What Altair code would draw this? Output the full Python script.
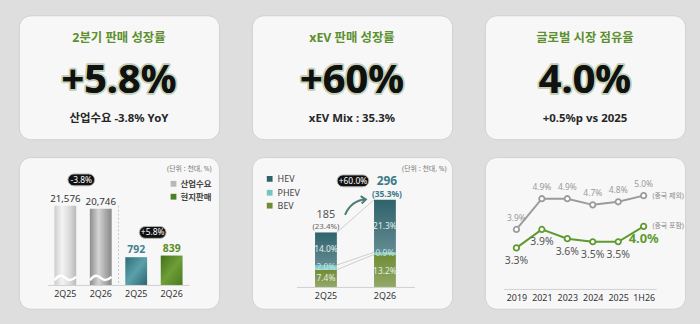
import altair as alt
import pandas as pd

F = "Noto Sans, Noto Sans CJK KR, sans-serif"

# ---------------- data ----------------
kpi_titles = ["2분기 판매 성장률", "xEV 판매 성장률", "글로벌 시장 점유율"]
kpi_values = ["+5.8%", "+60%", "4.0%"]
kpi_subs = ["산업수요 -3.8% YoY", "xEV Mix : 35.3%", "+0.5%p vs 2025"]

quarters = ["2Q25", "2Q26"]
demand = [21576, 20746]
local_sales = [792, 839]
group_names = ["산업수요", "현지판매"]
growth_badges = ["-3.8%", "+5.8%"]
unit_note = "(단위 : 천대, %)"

xev_total = [185, 296]
xev_mix = ["23.4%", "35.3%"]
xev_types = ["BEV", "PHEV", "HEV"]
bev_share = [7.4, 13.2]
phev_share = [2.0, 0.9]
hev_share = [14.0, 21.3]
xev_badge = "+60.0%"

years = ["2019", "2021", "2023", "2024", "2025", "1H26"]
share_ex_china = [3.9, 4.9, 4.9, 4.7, 4.8, 5.0]
share_in_china = [3.3, 3.9, 3.6, 3.5, 3.5, 4.0]
series_names = ["(중국 제외)", "(중국 포함)"]


def lg(stops, x2=1, y2=0):
    return alt.LinearGradient(
        gradient="linear",
        stops=[alt.GradientStop(color=c, offset=o) for o, c in stops],
        x1=0, y1=0, x2=x2, y2=y2,
    )


def axis(offset):
    return alt.Axis(title=None, offset=offset, domainColor="#cfcfcf", ticks=False,
                    labelFont=F, labelFontSize=9, labelColor="#333", labelPadding=5,
                    labelAngle=0, grid=False)


# ---------------- KPI cards ----------------
def kpi(i):
    d = pd.DataFrame({"t": [kpi_titles[i]], "v": [kpi_values[i]], "s": [kpi_subs[i]]})
    b = alt.Chart(d)
    cx = alt.value(101)
    title = b.mark_text(font=F, fontSize=12.5, fontWeight="bold", color="#5c8f2e").encode(
        x=cx, y=alt.value(23), text="t:N")
    glow = b.mark_text(font=F, fontSize=40, fontWeight="bold", color="#1a1a1a",
                       stroke="#3f6f14", strokeWidth=4, strokeOpacity=0.28,
                       strokeJoin="round").encode(x=cx, y=alt.value(66), text="v:N")
    num = b.mark_text(font=F, fontSize=40, fontWeight="bold", color="#111").encode(
        x=cx, y=alt.value(66), text="v:N")
    sub = b.mark_text(font=F, fontSize=11.5, fontWeight="bold", color="#262626").encode(
        x=cx, y=alt.value(105), text="s:N")
    return alt.layer(title, glow, num, sub).properties(width=202, height=125)


# ---------------- panel 1 : demand vs local sales ----------------
keys = [f"{group_names[0]} {q}" for q in quarters] + [f"{group_names[1]} {q}" for q in quarters]
p1 = pd.DataFrame({"k": keys, "v": demand + local_sales,
                   "g": [group_names[0]] * 2 + [group_names[1]] * 2})
p1["lab"] = [f"{v:,}" for v in p1["v"]]
b1 = alt.Chart(p1)
ax1 = axis(-24)
ax1["labelExpr"] = "slice(datum.label, -4)"
X1 = alt.X("k:N", sort=keys, scale=alt.Scale(domain=keys, range=[29, 172], paddingInner=0, paddingOuter=0),
           axis=ax1)
SG = alt.Scale(domain=[0, 25000], range=[129, 36.3])
SC = alt.Scale(domain=[0, 2000], range=[129, 58.3])

gray1 = lg([(0, "#cdcdcd"), (0.35, "#f3f3f3"), (0.7, "#dadada"), (1, "#bababa")])
gray2 = lg([(0, "#8d8d8d"), (0.4, "#d4d4d4"), (0.75, "#a6a6a6"), (1, "#888888")])
teal = lg([(0, "#2f6e79"), (0.5, "#5aa0aa"), (1, "#2d6670")], 1, 1)
green = lg([(0, "#426f1d"), (0.5, "#6e9e35"), (1, "#4a7a22")], 1, 1)

WAVE = "M-1,0.2 C-0.6,-0.3 -0.3,-0.3 0,0 C0.3,0.3 0.6,0.25 1,-0.1"

gray_layers = [
    b1.transform_filter(alt.datum.k == keys[i]).mark_bar(size=22, color=grad).encode(
        x=X1, y=alt.Y("v:Q", scale=SG, axis=None))
    for i, grad in enumerate([gray1, gray2])
]
gray_layers.append(
    b1.transform_filter(alt.datum.g == group_names[0]).transform_calculate(b="1900")
    .mark_point(shape=WAVE, size=484, filled=False, stroke="white", strokeWidth=2.5, opacity=1)
    .encode(x=X1, y=alt.Y("b:Q", scale=SG, axis=None)))
gray_layers.append(
    b1.transform_filter(alt.datum.g == group_names[0]).mark_text(
        font=F, fontSize=9.8, color="#333", baseline="bottom", dy=-2)
    .encode(x=X1, y=alt.Y("v:Q", scale=SG, axis=None), text="lab:N"))
gray_layer = alt.layer(*gray_layers)

col_layers = [
    b1.transform_filter(alt.datum.k == keys[2 + i]).mark_bar(size=22, color=grad).encode(
        x=X1, y=alt.Y("v:Q", scale=SC, axis=None))
    for i, grad in enumerate([teal, green])
]
for i, c in enumerate(["#3d8391", "#5b8d25"]):
    col_layers.append(
        b1.transform_filter(alt.datum.k == keys[2 + i]).mark_text(
            font=F, fontSize=10.5, fontWeight="bold", baseline="bottom", dy=-2, color=c)
        .encode(x=X1, y=alt.Y("v:Q", scale=SC, axis=None), text="lab:N"))
col_layer = alt.layer(*col_layers)

bd1 = alt.Chart(pd.DataFrame({"t": [growth_badges[0]]}))
bd2 = alt.Chart(pd.DataFrame({"t": [growth_badges[1]]}))


def badge(b, cx, cy, w, h=12):
    r = b.mark_rect(cornerRadius=6, color="#111", stroke="#b5b5b5", strokeWidth=1).encode(
        x=alt.value(cx - w / 2), x2=alt.value(cx + w / 2), y=alt.value(cy - h / 2), y2=alt.value(cy + h / 2))
    t = b.mark_text(font=F, fontSize=8.5, color="white").encode(
        x=alt.value(cx), y=alt.value(cy), text="t:N")
    return [r, t]


sep = alt.Chart(pd.DataFrame({"a": [0]})).mark_rule(color="#c4c4c4", strokeDash=[2, 2], strokeWidth=1).encode(
    x=alt.value(100.5), y=alt.value(49), y2=alt.value(129))

leg1 = pd.DataFrame({"t": group_names})
legc = alt.Chart(leg1)
note1 = alt.Chart(pd.DataFrame({"t": [unit_note]})).mark_text(font=F, fontSize=7, color="#777").encode(
    x=alt.value(172), y=alt.value(12), text="t:N")
leg_layers = []
for i, (c, yy) in enumerate([("#b8b8b8", 27), ("#4e7f25", 40)]):
    leg_layers.append(legc.transform_filter(alt.datum.t == group_names[i]).mark_point(
        shape="square", filled=True, size=34, color=c, opacity=1).encode(x=alt.value(156), y=alt.value(yy)))
    leg_layers.append(legc.transform_filter(alt.datum.t == group_names[i]).mark_text(
        font=F, fontSize=8.5, fontWeight="bold", color="#444", align="left").encode(
        x=alt.value(163), y=alt.value(yy), text="t:N"))

panel1 = alt.layer(gray_layer, col_layer, sep, *badge(bd1, 63, 23, 27), *badge(bd2, 135, 76, 27),
                   note1, *leg_layers).resolve_scale(y="independent").properties(width=202, height=153)

# ---------------- panel 2 : xEV stacked ----------------
rows = []
for qi, q in enumerate(quarters):
    shares = {"BEV": bev_share[qi], "PHEV": phev_share[qi], "HEV": hev_share[qi]}
    tot_share = sum(shares.values())
    cum = 0.0
    for t in xev_types:
        u = xev_total[qi] * shares[t] / tot_share
        rows.append(dict(q=q, t=t, y0=cum, y1=cum + u, mid=cum + u / 2, lab=f"{shares[t]:.1f}%"))
        cum += u
p2 = pd.DataFrame(rows)
b2 = alt.Chart(p2)
X2 = alt.X("q:N", sort=quarters, scale=alt.Scale(domain=quarters, range=[45, 164], paddingInner=0, paddingOuter=0),
           axis=axis(-22))
S2 = alt.Scale(domain=[0, 400], range=[131, 12.2])
xev_colors = ["#6f8c35", "#78c4c2", "#2f636c"]

bars2 = b2.mark_bar(size=22).encode(
    x=X2, y=alt.Y("y0:Q", scale=S2, axis=None), y2="y1:Q",
    color=alt.Color("t:N", scale=alt.Scale(domain=xev_types, range=xev_colors), legend=None))
shade2 = b2.mark_bar(size=22, color=lg([(0, "rgba(255,255,255,0)"), (1, "rgba(255,255,255,0.25)")], 0, 1)).encode(
    x=X2, y=alt.Y("y0:Q", scale=S2, axis=None), y2="y1:Q")
seg_lab = b2.transform_filter(alt.datum.t != "PHEV").mark_text(font=F, fontSize=8.5, color="#e4eeea").encode(
    x=X2, y=alt.Y("mid:Q", scale=S2, axis=None), text="lab:N")
phev_lab = b2.transform_filter(alt.datum.t == "PHEV").mark_text(font=F, fontSize=8.5, color="#b9e6e3").encode(
    x=X2, y=alt.Y("mid:Q", scale=S2, axis=None), text="lab:N")

tots = pd.DataFrame({"q": quarters, "total": xev_total, "mix": [f"({m})" for m in xev_mix]})
bt = alt.Chart(tots)
tot_layers = [
    bt.transform_filter(alt.datum.q == quarters[0]).mark_text(font=F, fontSize=11, color="#555", dy=-17.5).encode(
        x=X2, y=alt.Y("total:Q", scale=S2, axis=None), text="total:N"),
    bt.transform_filter(alt.datum.q == quarters[0]).mark_text(font=F, fontSize=8, color="#666", dy=-5.5).encode(
        x=X2, y=alt.Y("total:Q", scale=S2, axis=None), text="mix:N"),
    bt.transform_filter(alt.datum.q == quarters[1]).mark_text(font=F, fontSize=12, fontWeight="bold",
                                                              color="#3b7b88", dy=-18.5, dx=2).encode(
        x=X2, y=alt.Y("total:Q", scale=S2, axis=None), text="total:N"),
    bt.transform_filter(alt.datum.q == quarters[1]).mark_text(font=F, fontSize=8.5, fontWeight="bold",
                                                              color="#3b7b88", dy=-5.5, dx=2).encode(
        x=X2, y=alt.Y("total:Q", scale=S2, axis=None), text="mix:N"),
]

p25 = p2[p2.q == quarters[0]].set_index("t")
p26 = p2[p2.q == quarters[1]].set_index("t")
conn = pd.DataFrame({
    "a": [xev_total[0], p25.loc["PHEV", "y1"], p25.loc["PHEV", "y0"]],
    "b": [xev_total[1], p26.loc["PHEV", "y1"], p26.loc["PHEV", "y0"]],
})
conn_rule = alt.Chart(conn).mark_rule(color="#cdcdcd", strokeWidth=1).encode(
    x=alt.value(85.75), x2=alt.value(123.25), y=alt.Y("a:Q", scale=S2, axis=None), y2="b:Q")

ARROW = "M-1,0.8 Q-0.45,-0.55 1,-0.7 M0.5,-1 L1,-0.7 L0.6,-0.3"
arrow = alt.Chart(pd.DataFrame({"a": [0]})).mark_point(
    shape=ARROW, size=441, filled=False, stroke="#4d7d75", strokeWidth=2, opacity=1).encode(
    x=alt.value(104.5), y=alt.value(50))

bd3 = alt.Chart(pd.DataFrame({"t": [xev_badge]}))
note2 = alt.Chart(pd.DataFrame({"t": [unit_note]})).mark_text(font=F, fontSize=7, color="#777").encode(
    x=alt.value(174), y=alt.value(12), text="t:N")
legx = alt.Chart(pd.DataFrame({"t": xev_types, "c": xev_colors}))
leg2 = []
for t, c, yy in [("HEV", xev_colors[2], 22), ("PHEV", xev_colors[1], 36), ("BEV", xev_colors[0], 49)]:
    leg2.append(legx.transform_filter(alt.datum.t == t).mark_point(
        shape="square", filled=True, size=34, color=c, opacity=1).encode(x=alt.value(18), y=alt.value(yy)))
    leg2.append(legx.transform_filter(alt.datum.t == t).mark_text(
        font=F, fontSize=9, color="#444", align="left").encode(x=alt.value(26), y=alt.value(yy), text="t:N"))

panel2 = alt.layer(conn_rule, bars2, shade2, seg_lab, phev_lab, *tot_layers, arrow,
                   *badge(bd3, 102, 24, 32), note2, *leg2).properties(width=202, height=153)

# ---------------- panel 3 : market share lines ----------------
p3 = pd.DataFrame({"year": years * 2,
                   "s": [series_names[0]] * len(years) + [series_names[1]] * len(years),
                   "v": share_ex_china + share_in_china})
p3["lab"] = p3["v"].map(lambda v: f"{v:.1f}%")
b3 = alt.Chart(p3)
X3 = alt.X("year:O", sort=years, scale=alt.Scale(type="point", domain=years, range=[19, 173], padding=0.5),
           axis=axis(-20))
S3 = alt.Scale(domain=[3, 5.5], range=[100.9, 23.4])
Y3 = alt.Y("v:Q", scale=S3, axis=None)
C3 = alt.Scale(domain=series_names, range=["#9b9b9b", "#5e9b2f"])

lines3 = b3.mark_line(strokeWidth=2).encode(x=X3, y=Y3, color=alt.Color("s:N", scale=C3, legend=None))
pts3 = b3.mark_point(filled=True, fill="white", size=30, strokeWidth=1.8, opacity=1).encode(
    x=X3, y=Y3, stroke=alt.Stroke("s:N", scale=C3, legend=None))
lab_ex = b3.transform_filter(alt.datum.s == series_names[0]).mark_text(
    font=F, fontSize=8.5, color="#9a9a9a", dy=-12).encode(x=X3, y=Y3, text="lab:N")
lab_in = b3.transform_filter((alt.datum.s == series_names[1]) & (alt.datum.year != years[-1])).mark_text(
    font=F, fontSize=10.5, color="#555", dy=13).encode(x=X3, y=Y3, text="lab:N")
lab_last = b3.transform_filter((alt.datum.s == series_names[1]) & (alt.datum.year == years[-1])).mark_text(
    font=F, fontSize=13, fontWeight="bold", color="#5e9b2f", dy=13).encode(x=X3, y=Y3, text="lab:N")
ser_lab = b3.transform_filter(alt.datum.year == years[-1]).mark_text(
    font=F, fontSize=7, color="#888", align="left").encode(x=alt.value(169), y=Y3, text="s:N")

panel3 = alt.layer(lines3, pts3, lab_ex, lab_in, lab_last, ser_lab).properties(width=202, height=153)

# ---------------- compose ----------------
top = alt.hconcat(kpi(0), kpi(1), kpi(2), spacing=31)
bottom = alt.hconcat(panel1, panel2, panel3, spacing=31).resolve_scale(
    color="independent", stroke="independent")
chart = alt.vconcat(top, bottom, spacing=16).resolve_scale(
    color="independent", stroke="independent").properties(
    background="#dedede",
    padding={"left": 18, "top": 13, "right": 14, "bottom": 17},
).configure_view(fill="#f7f7f7", stroke="#d0d0d0", strokeWidth=1, cornerRadius=12)

chart.save("out.html", embed_options={"renderer": "svg", "actions": False})
